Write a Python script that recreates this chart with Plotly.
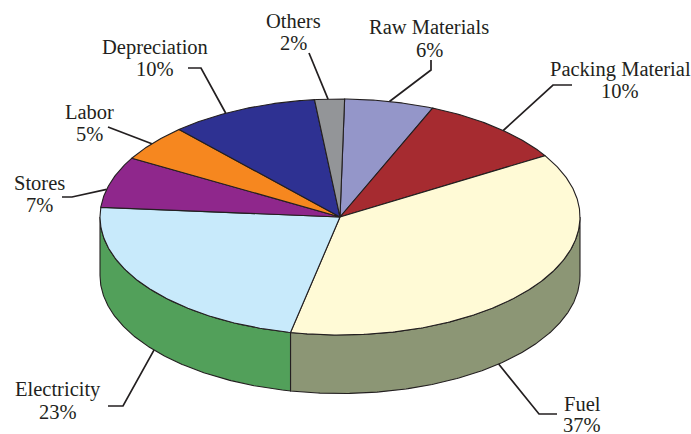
import numpy as np
import plotly.graph_objects as go

# --- data ---
categories = ["Raw Materials", "Packing Material", "Fuel", "Electricity",
              "Stores", "Labor", "Depreciation", "Others"]
shares = [6, 10, 37, 23, 7, 5, 10, 2]

# --- styles ---
top_colors = ["#9496C9", "#A62B30", "#FFFAD6", "#C8EAFB",
              "#8F278C", "#F6871F", "#2E3192", "#939598"]
side_colors = {"Fuel": "#8C9675", "Electricity": "#52A05A"}
INK = "#231F20"
FONT = "Liberation Serif"

# --- geometry of the projected pie (page pixels) ---
CX, CY, RX, RY, DEPTH = 340, 217, 240, 118, 58.5
START_DEG = 1.1


def rim(t_deg, drop=0.0):
    t = np.radians(t_deg)
    return CX + RX * np.sin(t), CY - RY * np.cos(t) + drop


def arc(a, b, drop=0.0):
    n = max(int(abs(b - a)) * 2, 2)
    return rim(np.linspace(a, b, n), drop)


edges = START_DEG + np.concatenate([[0], np.cumsum(shares)]) * 3.6

# --- label layout: text centre x, name y, percent y ---
label_pos = {
    "Raw Materials": (429, 27, 50), "Packing Material": (620, 69, 91), "Fuel": (582, 404, 425),
    "Electricity": (58, 389, 412), "Stores": (39, 183, 205), "Labor": (89, 112, 134),
    "Depreciation": (155, 47, 69), "Others": (293, 21, 43),
}
leader_frac = {
    "Raw Materials": 0.5, "Packing Material": 0.56, "Fuel": 0.60, "Electricity": 0.47,
    "Stores": 0.35, "Labor": 0.47, "Depreciation": 0.38, "Others": 0.45,
}
leader_elbows = {
    "Raw Materials": [(431, 70), (431, 60)],
    "Packing Material": [(553, 85), (572, 85)],
    "Fuel": [(539, 414), (557, 414)],
    "Electricity": [(123, 406), (108, 406)],
    "Stores": [(72, 197), (62, 197)],
    "Labor": [(108, 127)],
    "Depreciation": [(201, 68), (188, 68)],
    "Others": [(309, 53)],
}

fig = go.Figure()


def poly(x, y, color, name):
    fig.add_trace(go.Scatter(
        x=list(x), y=list(y), mode="lines", fill="toself", fillcolor=color,
        line=dict(color=INK, width=1.1), name=name, hoverinfo="name", showlegend=False))


# walls (only the front half of the rim is visible)
for i, cat in enumerate(categories):
    if cat in side_colors:
        a = max(edges[i], 90)
        b = min(edges[i + 1], 270)
        x1, y1 = arc(a, b)
        x2, y2 = arc(b, a, DEPTH)
        poly(np.r_[x1, x2, x1[0]], np.r_[y1, y2, y1[0]], side_colors[cat], cat + " side")

# top faces
for i, cat in enumerate(categories):
    x1, y1 = arc(edges[i], edges[i + 1])
    poly(np.r_[CX, x1, CX], np.r_[CY, y1, CY], top_colors[i], f"{cat} {shares[i]}%")

# leaders and labels
annotations = []
for i, cat in enumerate(categories):
    t = edges[i] + leader_frac[cat] * (edges[i + 1] - edges[i])
    drop = DEPTH if 90 < t < 270 else 0
    sx, sy = rim(t, drop)
    pts = [(sx, sy)] + leader_elbows[cat]
    fig.add_trace(go.Scatter(
        x=[p[0] for p in pts], y=[p[1] for p in pts], mode="lines",
        line=dict(color=INK, width=1.7), hoverinfo="skip", showlegend=False))
    lx, ny, py = label_pos[cat]
    for txt, ly in ((cat, ny), (f"{shares[i]}%", py)):
        annotations.append(dict(
            x=lx, y=ly, xref="x", yref="y", text=txt, showarrow=False,
            align="center", xanchor="center", yanchor="middle",
            font=dict(family=FONT, size=20.5, color=INK)))

fig.update_layout(
    width=691, height=434, margin=dict(l=0, r=0, t=0, b=0),
    paper_bgcolor="white", plot_bgcolor="white", annotations=annotations,
    xaxis=dict(range=[0, 691], visible=False, fixedrange=True),
    yaxis=dict(range=[434, 0], visible=False, fixedrange=True),
    showlegend=False,
)
fig.write_html("out.html", post_script="document.body.style.margin='0';",
               config={"displayModeBar": False})
